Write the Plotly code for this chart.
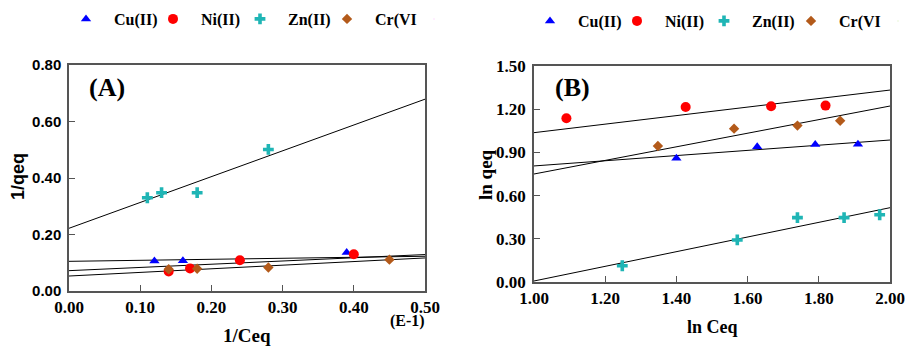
import plotly.graph_objects as go
import numpy as np

# ---------------- data ----------------
series = ["Cu(II)", "Ni(II)", "Zn(II)", "Cr(VI"]
colors = ["#0000ff", "#ff0000", "#1fb5b5", "#b35a1a"]
symbols = ["triangle-up", "circle", "cross", "diamond"]
sizes = [9, 10, 9, 8]

# Panel A: 1/Ceq (E-1) vs 1/qeq
a_cu_x = [0.12, 0.16, 0.39]
a_cu_y = [0.106, 0.107, 0.136]
a_ni_x = [0.14, 0.17, 0.24, 0.40]
a_ni_y = [0.069, 0.080, 0.109, 0.130]
a_zn_x = [0.11, 0.13, 0.18, 0.28]
a_zn_y = [0.330, 0.348, 0.348, 0.501]
a_cr_x = [0.14, 0.18, 0.28, 0.45]
a_cr_y = [0.077, 0.079, 0.083, 0.111]
# linear fits (intercept, slope) as drawn
a_fit_intercept = [0.105, 0.072, 0.222, 0.053]
a_fit_slope = [0.036, 0.114, 0.914, 0.128]

# Panel B: ln Ceq vs ln qeq
b_cu_x = [1.40, 1.627, 1.79, 1.91]
b_cu_y = [0.859, 0.940, 0.954, 0.956]
b_ni_x = [1.091, 1.426, 1.666, 1.819]
b_ni_y = [1.137, 1.215, 1.220, 1.225]
b_zn_x = [1.248, 1.571, 1.74, 1.871, 1.971]
b_zn_y = [0.113, 0.292, 0.447, 0.447, 0.467]
b_cr_x = [1.348, 1.562, 1.74, 1.86]
b_cr_y = [0.944, 1.065, 1.086, 1.120]
b_fit_intercept = [0.626, 0.741, -0.502, 0.278]
b_fit_slope = [0.180, 0.296, 0.509, 0.472]

a_xticks = [0.0, 0.1, 0.2, 0.3, 0.4, 0.5]
a_yticks = [0.0, 0.2, 0.4, 0.6, 0.8]
b_xticks = [1.0, 1.2, 1.4, 1.6, 1.8, 2.0]
b_yticks = [0.0, 0.3, 0.6, 0.9, 1.2, 1.5]
a_xrange = [0.0, 0.5]
a_yrange = [0.0, 0.8]
b_xrange = [1.0, 2.0]
b_yrange = [0.0, 1.5]

A_pts = [(a_cu_x, a_cu_y), (a_ni_x, a_ni_y), (a_zn_x, a_zn_y), (a_cr_x, a_cr_y)]
B_pts = [(b_cu_x, b_cu_y), (b_ni_x, b_ni_y), (b_zn_x, b_zn_y), (b_cr_x, b_cr_y)]

SERIF = "Liberation Serif"
SANS = "Liberation Sans"

fig = go.Figure()

def add_panel(pts, icpt, slope, xr, xa, ya, leg):
    xs = np.array(xr)
    for i in range(4):
        fig.add_trace(go.Scatter(
            x=xs, y=icpt[i] + slope[i] * xs, mode="lines",
            line=dict(color="black", width=1), showlegend=False,
            xaxis=xa, yaxis=ya, hoverinfo="skip"))
    for i, (x, y) in enumerate(pts):
        fig.add_trace(go.Scatter(
            x=x, y=y, mode="markers", name=series[i],
            marker=dict(symbol=symbols[i], size=sizes[i], color=colors[i],
                        line=dict(width=0)),
            xaxis=xa, yaxis=ya, legend=leg))
    # invisible spacer entry so the last legend label is not clipped
    fig.add_trace(go.Scatter(
        x=[None], y=[None], mode="markers", name="\u00a0",
        marker=dict(size=1, opacity=0), xaxis=xa, yaxis=ya, legend=leg,
        hoverinfo="skip"))

add_panel(A_pts, a_fit_intercept, a_fit_slope, a_xrange, "x", "y", "legend")
add_panel(B_pts, b_fit_intercept, b_fit_slope, b_xrange, "x2", "y2", "legend2")

axcommon = dict(showline=True, linecolor="#555", linewidth=1.5, mirror=True,
                ticks="inside", ticklen=6, tickcolor="#555", tickwidth=1.2,
                showgrid=False, zeroline=False, automargin=False)

W, H = 907, 349
def dom(p0, p1, total):
    return [p0 / total, p1 / total]

def tf(fam, size):
    return dict(family=fam, size=size, color="black", weight="bold")

fig.update_layout(
    width=W, height=H, margin=dict(l=0, r=0, t=0, b=0, autoexpand=False),
    paper_bgcolor="white", plot_bgcolor="white",
    xaxis=dict(domain=dom(69, 425, W), anchor="y", range=a_xrange,
               tickvals=a_xticks, ticktext=[f"{v:.2f}" for v in a_xticks],
               tickfont=tf(SERIF, 17), **axcommon),
    yaxis=dict(domain=[(H - 291) / H, (H - 65) / H], anchor="x", range=a_yrange,
               tickvals=a_yticks, ticktext=[f"{v:.2f}" for v in a_yticks],
               tickfont=tf(SANS, 15), ticklabelstandoff=3, **axcommon),
    xaxis2=dict(domain=dom(534, 890, W), anchor="y2", range=b_xrange,
                tickvals=b_xticks, ticktext=[f"{v:.2f}" for v in b_xticks],
                tickfont=tf(SERIF, 17), **axcommon),
    yaxis2=dict(domain=[(H - 282) / H, (H - 66) / H], anchor="x2", range=b_yrange,
                tickvals=b_yticks, ticktext=[f"{v:.2f}" for v in b_yticks],
                tickfont=tf(SERIF, 17), ticklabelstandoff=3, **axcommon),
    legend=dict(orientation="h", x=58 / W, xanchor="left", y=1 - 2 / H, yanchor="top",
                font=tf(SERIF, 16), itemwidth=46, entrywidth=26,
                bgcolor="rgba(0,0,0,0)"),
    legend2=dict(orientation="h", x=522 / W, xanchor="left", y=1 - 4 / H, yanchor="top",
                 font=tf(SERIF, 16), itemwidth=46, entrywidth=26,
                 bgcolor="rgba(0,0,0,0)"),
    showlegend=True,
)

ann = [
    dict(text="<b>(A)</b>", x=107 / W, y=1 - 88 / H, font=dict(family=SERIF, size=26)),
    dict(text="<b>(B)</b>", x=572 / W, y=1 - 88 / H, font=dict(family=SERIF, size=26)),
    dict(text="<b>1/Ceq</b>", x=247 / W, y=1 - 335 / H, font=dict(family=SERIF, size=19)),
    dict(text="<b>ln Ceq</b>", x=712 / W, y=1 - 327 / H, font=dict(family=SERIF, size=18)),
    dict(text="<b>(E-1)</b>", x=407 / W, y=1 - 321 / H, font=dict(family=SERIF, size=16)),
    dict(text="<b>1/qeq</b>", x=18 / W, y=1 - 177 / H, textangle=-90, font=dict(family=SANS, size=18)),
    dict(text="<b>ln qeq</b>", x=485 / W, y=1 - 175 / H, textangle=-90, font=dict(family=SERIF, size=19)),
]
for a in ann:
    a.update(xref="paper", yref="paper", showarrow=False, xanchor="center", yanchor="middle")
    a["font"]["color"] = "black"
    fig.add_annotation(**a)

fig.write_html("out.html")
